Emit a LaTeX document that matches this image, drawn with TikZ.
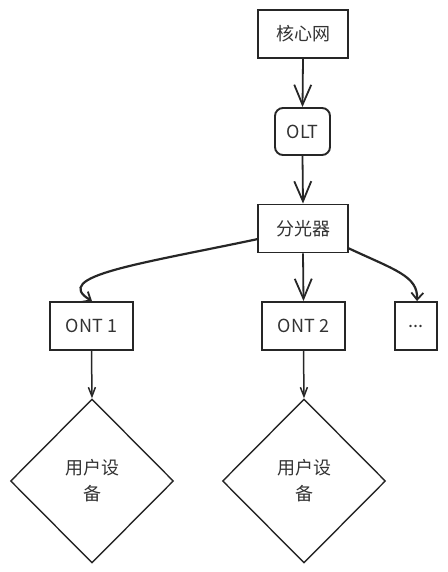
\documentclass[tikz,border=0pt]{standalone}
\usepackage{fontspec}
\setmainfont{Noto Sans CJK SC}
\usetikzlibrary{arrows.meta,shapes.geometric}
\begin{document}
\begin{tikzpicture}[x=1pt,y=-1pt,
  box/.style={draw=black!85,line width=1.9pt,minimum width=#1,minimum height=48pt,inner sep=0pt,font=\fontsize{18}{20}\selectfont,text=black!80},
  box/.default=90pt,
  rbox/.style={draw=black!85,line width=1.9pt,rounded corners=8pt,minimum width=55pt,minimum height=47pt,inner sep=0pt,font=\fontsize{18}{20}\selectfont,text=black!80},
  dia/.style={draw=black!85,line width=1.4pt,diamond,minimum width=163pt,minimum height=164pt,inner sep=0pt,align=center,font=\fontsize{18}{26}\selectfont,text=black!80},
  bigarr/.style={draw=black!85,line width=1.8pt,-{Straight Barb[length=20pt,width=17pt,line width=1.8pt]}},
  curarr/.style={draw=black!85,line width=2.2pt,-{Straight Barb[length=7pt,width=12pt,line width=1.8pt]}},
  smallarr/.style={draw=black!85,line width=1.5pt,-{Straight Barb[length=9pt,width=7pt,line width=1.5pt]}}
]
\useasboundingbox (0,0) rectangle (447,572);
\node[box] (core) at (303,34) {核心网};
\node[rbox] (olt) at (302.5,131.5) {OLT};
\node[box] (spl) at (303,228.5) {分光器};
\node[box=83pt] (ont1) at (91.5,326) {ONT 1};
\node[box=83pt] (ont2) at (303.5,326) {ONT 2};
\node[box=42pt] (more) at (416,326) {...};
\node[dia] (ue1) at (92,481) {用户设\\备};
\node[dia] (ue2) at (304,481) {用户设\\备};
\draw[bigarr] (core.south) -- (olt.north);
\draw[bigarr] (olt.south) -- (spl.north);
\draw[bigarr] (spl.south) -- (ont2.north);
\coordinate (sl) at (258,239);
\coordinate (sr) at (348,248);
\draw[curarr] (sl) .. controls (140,264) and (50,276) .. ([xshift=0.5pt]ont1.north);
\draw[curarr] (sr) .. controls (395,270) and (418,276) .. ([xshift=1pt]more.north);
\draw[smallarr] (ont1.south) -- (ue1.north);
\draw[smallarr] (ont2.south) -- (ue2.north);
\end{tikzpicture}
\end{document}
